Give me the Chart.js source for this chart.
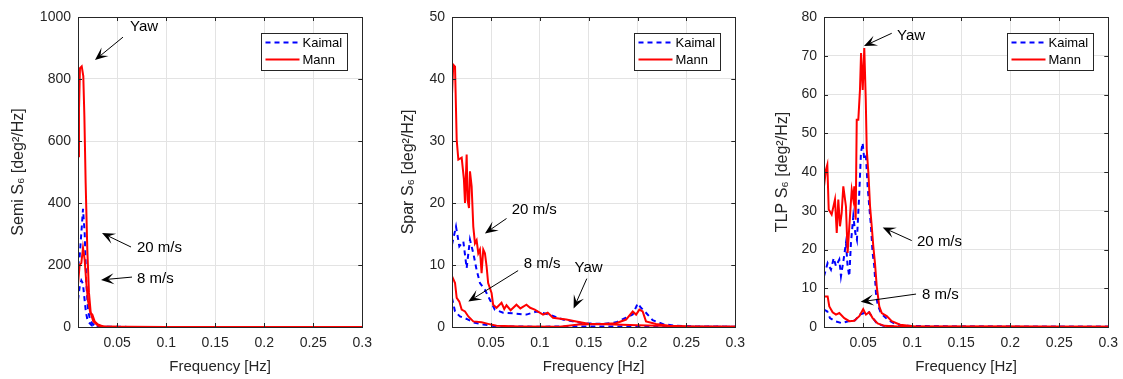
<!DOCTYPE html>
<html>
<head>
<meta charset="utf-8">
<script src="https://cdn.jsdelivr.net/npm/chart.js@4.4.0/dist/chart.umd.min.js"></script>
<style>
  body { margin: 0; background: #fff; overflow: hidden; }
  #wrap { position: relative; width: 1123px; height: 379px; overflow: hidden; }
  canvas { position: absolute; top: 0; }
</style>
</head>
<body>
<div id="wrap">
  <canvas id="semi" width="375" height="379" style="left:5px"></canvas>
  <canvas id="spar" width="358" height="379" style="left:395px"></canvas>
  <canvas id="tlp" width="357" height="379" style="left:769px"></canvas>
</div>
<script>
/* DATA */
const xTicks = [0.05, 0.1, 0.15, 0.2, 0.25, 0.3];
const legendNames = ["Kaimal", "Mann"];

// Semi-submersible
const semiMann20F = [0.010, 0.011, 0.012, 0.0138, 0.0154, 0.0165, 0.0178, 0.0195, 0.0212, 0.023, 0.0256, 0.0307, 0.039, 0.06, 0.1, 0.15, 0.2, 0.25, 0.3];
const semiMann20V = [551, 700, 835, 841, 809, 680, 465, 249, 110, 45, 18, 4, 1, 0.5, 0.3, 0.2, 0.2, 0.1, 0.1];
const semiKaimal20F = [0.010, 0.0117, 0.0134, 0.0151, 0.0168, 0.0185, 0.0202, 0.0226, 0.027, 0.032, 0.06, 0.1, 0.15, 0.2, 0.25, 0.3];
const semiKaimal20V = [196, 228, 303, 381, 303, 142, 56, 18, 4, 1, 0.4, 0.2, 0.1, 0.1, 0.1, 0.1];
const semiMann8F = [0.010, 0.0117, 0.0134, 0.0151, 0.0168, 0.0185, 0.0202, 0.0226, 0.0246, 0.027, 0.0304, 0.0355, 0.05, 0.1, 0.15, 0.2, 0.25, 0.3];
const semiMann8V = [137, 201, 206, 255, 217, 142, 84, 46, 40, 18, 8, 2, 0.5, 0.2, 0.1, 0.1, 0.1, 0.1];
const semiKaimal8F = [0.010, 0.0117, 0.0134, 0.015, 0.0165, 0.018, 0.0195, 0.021, 0.024, 0.028, 0.035, 0.06, 0.1, 0.15, 0.2, 0.25, 0.3];
const semiKaimal8V = [87, 130, 150, 140, 95, 50, 25, 15, 5, 2, 0.5, 0.2, 0.1, 0.1, 0.1, 0.1, 0.1];

// Spar
const sparMann20F = [0.010, 0.0113, 0.0131, 0.0148, 0.0165, 0.0199, 0.0222, 0.0233, 0.025, 0.026, 0.0274, 0.0284, 0.0301, 0.0318, 0.0335, 0.0352, 0.0369, 0.0386, 0.0403, 0.042, 0.0437, 0.0454, 0.047, 0.0505, 0.0521, 0.0556, 0.0607, 0.0635, 0.0658, 0.070, 0.076, 0.080, 0.0862, 0.090, 0.0947, 0.1032, 0.108, 0.1134, 0.127, 0.1372, 0.1508, 0.1644, 0.178, 0.1882, 0.195, 0.1985, 0.2018, 0.2052, 0.2086, 0.2189, 0.2324, 0.25, 0.3];
const sparMann20V = [37.5, 42.3, 42, 30.2, 27, 27.3, 23.8, 20, 27.8, 20.5, 19.2, 25.1, 22.7, 16.2, 13.5, 14, 11.9, 12.5, 8.7, 12.5, 11.9, 9.8, 7.1, 5.5, 3.6, 3.1, 3.9, 2.9, 3.5, 2.7, 3.6, 3.0, 3.6, 3.1, 2.8, 2, 2.3, 1.5, 1.2, 0.9, 0.5, 0.5, 0.6, 1.2, 2.5, 2, 2.8, 2.5, 0.9, 0.5, 0.2, 0.1, 0.05];
const sparKaimal20F = [0.010, 0.0141, 0.0175, 0.0216, 0.025, 0.0284, 0.0318, 0.0352, 0.0386, 0.0437, 0.0488, 0.0539, 0.0624, 0.0726, 0.0862, 0.0964, 0.11, 0.1236, 0.144, 0.1644, 0.178, 0.1882, 0.195, 0.2001, 0.2035, 0.2086, 0.2154, 0.2256, 0.2392, 0.26, 0.3];
const sparKaimal20V = [13.3, 16.2, 13, 13.8, 9.5, 14.1, 11.9, 9.2, 7.1, 6, 4.4, 2.8, 2.3, 2.2, 2, 2.5, 2, 1.2, 0.6, 0.5, 0.75, 1.5, 2, 3.8, 3.1, 2.3, 1.1, 0.5, 0.2, 0.1, 0.05];
const sparMann8F = [0.010, 0.0131, 0.0148, 0.0175, 0.0199, 0.0233, 0.0267, 0.0318, 0.0403, 0.047, 0.0556, 0.079, 0.12, 0.14, 0.16, 0.2, 0.25, 0.3];
const sparMann8V = [8.2, 7.1, 4.7, 4.1, 2.8, 2.5, 1.7, 0.9, 0.75, 0.5, 0.2, 0.1, 0.05, 0.4, 0.5, 0.3, 0.1, 0.05];
const sparKaimal8F = [0.010, 0.0131, 0.0182, 0.025, 0.0318, 0.042, 0.0556, 0.1, 0.15, 0.2, 0.25, 0.3];
const sparKaimal8V = [4.7, 2.5, 1.7, 1.3, 0.75, 0.4, 0.1, 0.05, 0.1, 0.1, 0.05, 0.05];

// TLP
const tlpMann20F = [0.010, 0.012, 0.0134, 0.0148, 0.0178, 0.0212, 0.023, 0.0246, 0.0263, 0.028, 0.0297, 0.0324, 0.0341, 0.0365, 0.0383, 0.0399, 0.0409, 0.0423, 0.0434, 0.045, 0.0467, 0.0478, 0.0495, 0.0511, 0.0526, 0.0536, 0.0553, 0.057, 0.0587, 0.0603, 0.062, 0.0638, 0.0664, 0.0689, 0.074, 0.0791, 0.0876, 0.1012, 0.15, 0.2, 0.25, 0.3];
const tlpMann20V = [36.3, 40.6, 41.9, 30.3, 29, 32.9, 24.3, 32.9, 26, 29.4, 36.3, 31.1, 19.1, 28.6, 35.4, 32.9, 36.3, 27.7, 53.5, 53.5, 61.2, 70.7, 61.2, 72, 58.7, 45.8, 39.7, 31.1, 26, 20.8, 16.5, 10.5, 5.3, 3.6, 2.8, 1.5, 0.6, 0.2, 0.1, 0.1, 0.05, 0.05];
const tlpKaimal20F = [0.010, 0.0137, 0.0171, 0.0199, 0.0222, 0.0256, 0.0273, 0.030, 0.0324, 0.0341, 0.0358, 0.0375, 0.0399, 0.0419, 0.0436, 0.046, 0.0477, 0.0494, 0.0511, 0.0528, 0.0545, 0.0562, 0.0579, 0.0596, 0.0613, 0.063, 0.0647, 0.068, 0.0749, 0.0817, 0.0919, 0.15, 0.2, 0.25, 0.3];
const tlpKaimal20V = [13.1, 16.5, 14.8, 17.8, 15.7, 17.4, 13.1, 17.4, 21.7, 15.7, 13.1, 21.7, 28.6, 24.3, 22.5, 34.6, 44.9, 47.5, 43.2, 44, 36.3, 31.1, 26, 19.1, 15.7, 8.8, 5.8, 3.6, 1.9, 0.9, 0.3, 0.1, 0.1, 0.05, 0.05];
const tlpMann8F = [0.010, 0.0137, 0.0154, 0.0188, 0.0222, 0.0256, 0.0307, 0.0358, 0.0409, 0.046, 0.050, 0.0528, 0.0562, 0.0596, 0.0647, 0.0715, 0.085, 0.15, 0.2, 0.25, 0.3];
const tlpMann8V = [7.9, 7.9, 5.3, 3.8, 3.2, 3.6, 2.3, 1.5, 1.6, 2.8, 4.6, 3.2, 3.8, 2.3, 0.9, 0.3, 0.1, 0.05, 0.05, 0.05, 0.05];
const tlpKaimal8F = [0.010, 0.0134, 0.0161, 0.0212, 0.028, 0.0348, 0.0416, 0.0467, 0.0508, 0.0552, 0.0586, 0.0637, 0.0705, 0.1, 0.15, 0.2, 0.25, 0.3];
const tlpKaimal8V = [4.5, 4, 2.3, 1.5, 1, 1.5, 1.7, 3.2, 3.6, 4, 2.8, 1, 0.3, 0.05, 0.05, 0.05, 0.05, 0.05];

/* STYLE */
const FONT = '"Liberation Sans", Arial, Helvetica, sans-serif';
const AXIS = "#262626";
const RED = "#ff0000";
const BLUE = "#0000ff";

function pts(f, v) {
  return f.map((x, i) => ({ x: x, y: v[i] }));
}

function kaimal(f, v) {
  return { data: pts(f, v), borderColor: BLUE, borderWidth: 2, borderDash: [5, 4], pointRadius: 0, order: 2 };
}
function mann(f, v) {
  return { data: pts(f, v), borderColor: RED, borderWidth: 2, pointRadius: 0, order: 1 };
}

/* box with inward ticks, like matlab */
const framePlugin = {
  id: "frame",
  afterDatasetsDraw(chart) {
    const { ctx, chartArea: a, scales } = chart;
    ctx.save();
    ctx.strokeStyle = AXIS;
    ctx.lineWidth = 1;
    ctx.beginPath();
    xTicks.forEach(t => {
      const px = Math.round(scales.x.getPixelForValue(t)) + 0.5;
      ctx.moveTo(px, a.bottom); ctx.lineTo(px, a.bottom - 4);
      ctx.moveTo(px, a.top); ctx.lineTo(px, a.top + 4);
    });
    scales.y.ticks.forEach(t => {
      const py = Math.round(scales.y.getPixelForValue(t.value)) + 0.5;
      ctx.moveTo(a.left, py); ctx.lineTo(a.left + 4, py);
      ctx.moveTo(a.right, py); ctx.lineTo(a.right - 4, py);
    });
    ctx.stroke();
    ctx.strokeRect(Math.round(a.left) + 0.5, Math.round(a.top) + 0.5, Math.round(a.right - a.left), Math.round(a.bottom - a.top));
    ctx.restore();
  }
};

/* legend inside the axes, top right */
const legendPlugin = {
  id: "legendBox",
  afterDraw(chart) {
    const { ctx, chartArea: a } = chart;
    const w = 86, h = 37;
    const x0 = Math.round(a.right - 15 - w) + 0.5;
    const y0 = Math.round(a.top + 16) + 0.5;
    ctx.save();
    ctx.fillStyle = "#fff";
    ctx.fillRect(x0, y0, w, h);
    ctx.strokeStyle = AXIS;
    ctx.lineWidth = 1;
    ctx.strokeRect(x0, y0, w, h);
    ctx.font = "13px " + FONT;
    ctx.textBaseline = "middle";
    legendNames.forEach((name, i) => {
      const y = y0 + 9 + i * 17;
      ctx.beginPath();
      ctx.lineWidth = 2;
      ctx.strokeStyle = i === 0 ? BLUE : RED;
      ctx.setLineDash(i === 0 ? [5, 4] : []);
      ctx.moveTo(x0 + 4, y); ctx.lineTo(x0 + 38, y);
      ctx.stroke();
      ctx.setLineDash([]);
      ctx.fillStyle = "#000";
      ctx.fillText(name, x0 + 41, y + 0.5);
    });
    ctx.restore();
  }
};

/* text arrows (positions in data units) */
const notePlugin = {
  id: "notes",
  afterDraw(chart, args, opts) {
    const { ctx, scales } = chart;
    const X = v => scales.x.getPixelForValue(v);
    const Y = v => scales.y.getPixelForValue(v);
    ctx.save();
    (opts.items || []).forEach(n => {
      ctx.fillStyle = "#000";
      ctx.strokeStyle = "#000";
      ctx.font = "15px " + FONT;
      ctx.textBaseline = "middle";
      ctx.fillText(n.text, X(n.tx), Y(n.ty));
      const x0 = X(n.x0), y0 = Y(n.y0), x1 = X(n.x1), y1 = Y(n.y1);
      const len = Math.hypot(x1 - x0, y1 - y0);
      const ux = (x1 - x0) / len, uy = (y1 - y0) / len;
      const nx = -uy, ny = ux;
      const L = 13, W = 5.5;
      ctx.lineWidth = 1;
      ctx.beginPath();
      ctx.moveTo(x0, y0);
      ctx.lineTo(x1 - ux * L * 0.55, y1 - uy * L * 0.55);
      ctx.stroke();
      ctx.beginPath();
      ctx.moveTo(x1, y1);
      ctx.lineTo(x1 - ux * L + nx * W, y1 - uy * L + ny * W);
      ctx.lineTo(x1 - ux * L * 0.55, y1 - uy * L * 0.55);
      ctx.lineTo(x1 - ux * L - nx * W, y1 - uy * L - ny * W);
      ctx.closePath();
      ctx.fill();
    });
    ctx.restore();
  }
};

function makeChart(id, opt) {
  return new Chart(document.getElementById(id), {
    type: "line",
    data: { datasets: opt.datasets },
    plugins: [framePlugin, legendPlugin, notePlugin],
    options: {
      responsive: false,
      animation: false,
      devicePixelRatio: 1,
      parsing: false,
      layout: { padding: { top: 17, right: opt.padRight, bottom: 0, left: 0 } },
      scales: {
        x: {
          type: "linear",
          min: 0.01,
          max: 0.3,
          afterBuildTicks: s => { s.ticks = xTicks.map(v => ({ value: v })); },
          afterFit: s => { s.height = 52; },
          ticks: {
            autoSkip: false,
            maxRotation: 0,
            padding: 8,
            color: AXIS,
            font: { family: FONT, size: 14 },
            callback: v => String(v)
          },
          grid: { color: "#e3e3e3", drawTicks: false },
          border: { display: false },
          title: {
            display: true,
            text: "Frequency [Hz]",
            color: AXIS,
            font: { family: FONT, size: 15 },
            padding: { top: 0, bottom: 3 }
          }
        },
        y: {
          min: 0,
          max: opt.yMax,
          afterFit: s => { s.width = opt.yWidth; },
          ticks: {
            stepSize: opt.yStep,
            padding: 7,
            color: AXIS,
            font: { family: FONT, size: 14 },
            callback: v => String(v)
          },
          grid: { color: "#e3e3e3", drawTicks: false },
          border: { display: false },
          title: {
            display: true,
            text: opt.yLabel,
            color: AXIS,
            font: { family: FONT, size: 16 },
            padding: { top: 4, bottom: 0 }
          }
        }
      },
      plugins: {
        legend: { display: false },
        tooltip: { enabled: false },
        notes: { items: opt.notes }
      }
    }
  });
}

/* SEMI */
makeChart("semi", {
  yMax: 1000, yStep: 200, yWidth: 73, padRight: 2,
  yLabel: "Semi S\u2086 [deg\u00b2/Hz]",
  datasets: [
    mann(semiMann20F, semiMann20V), kaimal(semiKaimal20F, semiKaimal20V),
    mann(semiMann8F, semiMann8V), kaimal(semiKaimal8F, semiKaimal8V)
  ],
  notes: [
    { text: "Yaw", tx: 0.0631, ty: 968, x0: 0.0559, y0: 935, x1: 0.0273, y1: 861 },
    { text: "20 m/s", tx: 0.0702, ty: 255, x0: 0.0641, y0: 258, x1: 0.0345, y1: 303 },
    { text: "8 m/s", tx: 0.0702, ty: 155, x0: 0.0651, y0: 161, x1: 0.0335, y1: 152 }
  ]
});

/* SPAR */
makeChart("spar", {
  yMax: 50, yStep: 10, yWidth: 57, padRight: 2,
  yLabel: "Spar S\u2086 [deg\u00b2/Hz]",
  datasets: [
    mann(sparMann20F, sparMann20V), kaimal(sparKaimal20F, sparKaimal20V),
    mann(sparMann8F, sparMann8V), kaimal(sparKaimal8F, sparKaimal8V)
  ],
  notes: [
    { text: "20 m/s", tx: 0.0712, ty: 18.9, x0: 0.0658, y0: 17.5, x1: 0.0437, y1: 15.1 },
    { text: "8 m/s", tx: 0.0835, ty: 10.2, x0: 0.0777, y0: 9.1, x1: 0.0267, y1: 4.1 },
    { text: "Yaw", tx: 0.1355, ty: 9.5, x0: 0.148, y0: 7.8, x1: 0.1345, y1: 3.0 }
  ]
});

/* TLP */
makeChart("tlp", {
  yMax: 80, yStep: 10, yWidth: 55, padRight: 2,
  yLabel: "TLP S\u2086 [deg\u00b2/Hz]",
  datasets: [
    mann(tlpMann20F, tlpMann20V), kaimal(tlpKaimal20F, tlpKaimal20V),
    mann(tlpMann8F, tlpMann8V), kaimal(tlpKaimal8F, tlpKaimal8V)
  ],
  notes: [
    { text: "Yaw", tx: 0.0845, ty: 75.1, x0: 0.0791, y0: 75.8, x1: 0.0508, y1: 72.5 },
    { text: "20 m/s", tx: 0.1049, ty: 21.9, x0: 0.0995, y0: 22.3, x1: 0.0699, y1: 25.7 },
    { text: "8 m/s", tx: 0.11, ty: 8.3, x0: 0.1039, y0: 8.5, x1: 0.0474, y1: 6.5 }
  ]
});
</script>
</body>
</html>
